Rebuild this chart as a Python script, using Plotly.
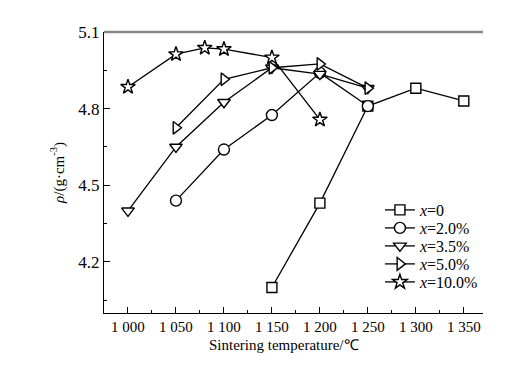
import plotly.graph_objects as go

temp_x0 = [1150, 1200, 1250, 1300, 1350]
rho_x0 = [4.10, 4.43, 4.81, 4.88, 4.83]

temp_x2 = [1050, 1100, 1150, 1200, 1250]
rho_x2 = [4.44, 4.64, 4.775, 4.94, 4.81]

temp_x35 = [1000, 1050, 1100, 1150, 1200, 1250]
rho_x35 = [4.40, 4.65, 4.825, 4.96, 4.935, 4.88]

temp_x5 = [1050, 1100, 1150, 1200, 1250]
rho_x5 = [4.725, 4.915, 4.96, 4.975, 4.88]

temp_x10 = [1000, 1050, 1080, 1100, 1150, 1200]
rho_x10 = [4.885, 5.013, 5.038, 5.033, 5.0, 4.757]

series_names = ["<i>x</i>=0", "<i>x</i>=2.0%", "<i>x</i>=3.5%", "<i>x</i>=5.0%", "<i>x</i>=10.0%"]
symbols = ["square", "circle", "triangle-down", "triangle-right", "star"]
xt_vals = [1000, 1050, 1100, 1150, 1200, 1250, 1300, 1350]
xt_text = ["1 000", "1 050", "1 100", "1 150", "1 200", "1 250", "1 300", "1 350"]
yt_vals = [4.2, 4.5, 4.8, 5.1]
yt_text = ["4.2", "4.5", "4.8", "5.1"]

data = [(temp_x0, rho_x0), (temp_x2, rho_x2), (temp_x35, rho_x35),
        (temp_x5, rho_x5), (temp_x10, rho_x10)]
sizes = [10, 11, 11, 11, 11]
legend_ids = ["legend", "legend2", "legend3", "legend4", "legend5"]
legend_rows = [0.3665, 0.3025, 0.2384, 0.1744, 0.1103]

FONT = "Liberation Serif"
fig = go.Figure()
for (xs, ys), name, sym, sz, lid in zip(data, series_names, symbols, sizes, legend_ids):
    fig.add_trace(go.Scatter(
        x=xs, y=ys, name=name, mode="lines+markers", legend=lid,
        line=dict(color="black", width=1.3),
        marker=dict(symbol=sym, size=sz, color="white",
                    line=dict(color="black", width=1.4)),
    ))

legend_layout = {}
for lid, yrow in zip(legend_ids, legend_rows):
    legend_layout[lid] = dict(x=0.728, y=yrow, xanchor="left", yanchor="middle",
                              bgcolor="rgba(0,0,0,0)", borderwidth=0,
                              font=dict(size=16, family=FONT), itemwidth=30)

# page has an 8px body margin; compensate so the plot area lands where the reference has it
fig.update_layout(
    width=530, height=370,
    margin=dict(l=96, r=55, t=24, b=65),
    paper_bgcolor="white", plot_bgcolor="white",
    font=dict(family=FONT, size=15, color="black"),
    showlegend=True,
    xaxis=dict(range=[975, 1370], tickvals=xt_vals, ticktext=xt_text,
               automargin=False,
               ticks="inside", ticklen=6, tickcolor="black", tickwidth=1,
               showline=True, linecolor="black", linewidth=1.2,
               showgrid=False, zeroline=False, tickfont=dict(size=15),
               minor=dict(ticks="inside", ticklen=3, dtick=25, tick0=1025,
                          tickcolor="black", showgrid=False)),
    yaxis=dict(range=[4.0, 5.1], tickvals=yt_vals, ticktext=yt_text,
               automargin=False,
               ticks="inside", ticklen=6, tickcolor="black", tickwidth=1,
               showline=True, linecolor="black", linewidth=1.2,
               showgrid=False, zeroline=False, tickfont=dict(size=17),
               minor=dict(ticks="inside", ticklen=3, dtick=0.15, tick0=4.05,
                          tickcolor="black", showgrid=False),
               title=dict(text="<i>ρ</i>/(g·cm<sup>-3</sup>)", standoff=10,
                          font=dict(size=15, family=FONT))),
    **legend_layout,
)
fig.add_annotation(text="Sintering temperature/℃", xref="paper", yref="paper",
                   x=0.475, y=-0.115, xanchor="center", yanchor="middle",
                   showarrow=False, font=dict(size=15, family=FONT))
fig.add_shape(type="line", xref="paper", yref="paper", x0=0, x1=1, y0=1, y1=1,
              line=dict(color="#888888", width=2.5))

fig.write_html("out.html")
